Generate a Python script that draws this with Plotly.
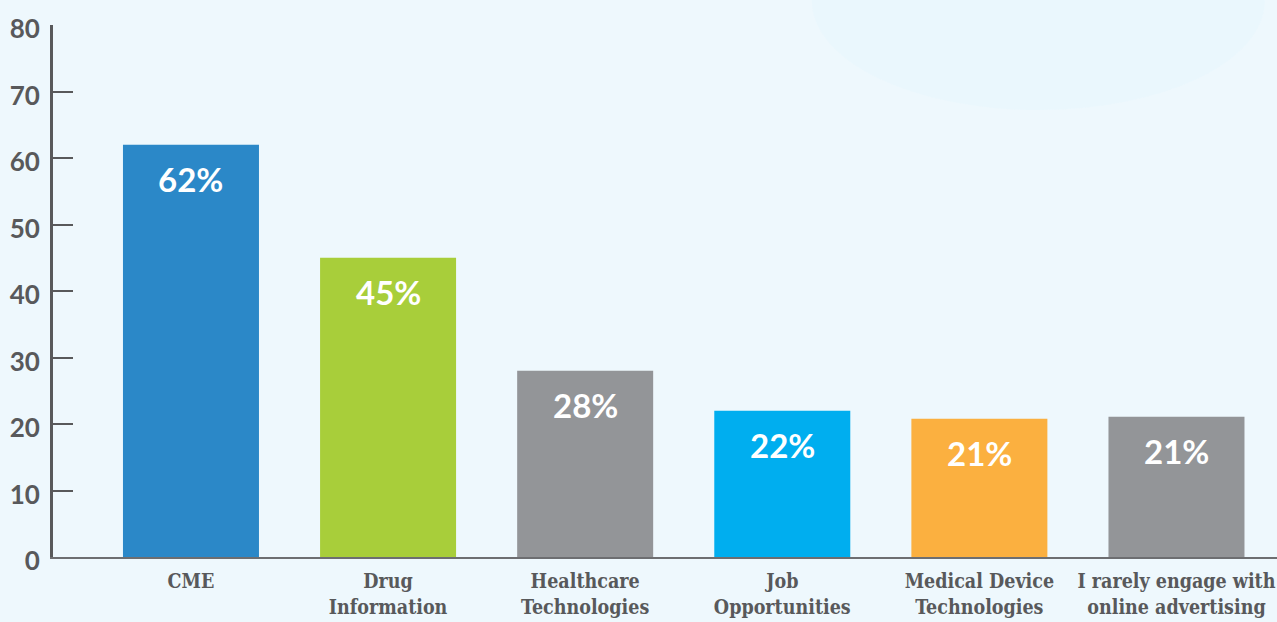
import plotly.graph_objects as go

categories = ["CME", "Drug<br>Information", "Healthcare<br>Technologies", "Job<br>Opportunities",
              "Medical Device<br>Technologies", "I rarely engage with<br>online advertising"]
values = [62, 45, 28, 22, 20.8, 21.1]
labels = ["62%", "45%", "28%", "22%", "21%", "21%"]
colors = ["#2B88C8", "#A8CE3A", "#939598", "#00AEEF", "#FBB040", "#939598"]
y_ticks = [0, 10, 20, 30, 40, 50, 60, 70, 80]

fig = go.Figure()
fig.add_trace(go.Bar(x=list(range(len(categories))), y=values, marker=dict(color=colors, line=dict(width=0)),
                     width=0.69, hoverinfo="skip"))

for i, (v, t) in enumerate(zip(values, labels)):
    fig.add_annotation(x=i, y=v, text=t, showarrow=False, yanchor="middle", yshift=-34,
                       font=dict(family="Lato", size=33, color="white", weight=700))

fig.add_shape(type="circle", xref="paper", yref="paper", x0=0.62, x1=0.99, y0=0.84, y1=1.25,
              fillcolor="#E8F6FD", line=dict(width=0), layer="below", opacity=0.6)

fig.update_layout(
    width=1277, height=622,
    margin=dict(l=53, r=0, t=25, b=65),
    paper_bgcolor="#EEF8FD", plot_bgcolor="rgba(0,0,0,0)",
    showlegend=False,
    bargap=0.31,
)
fig.update_xaxes(
    tickmode="array", tickvals=list(range(len(categories))), ticktext=categories,
    range=[-0.70, 5.51], tickangle=0, showgrid=False, zeroline=False,
    showline=True, linecolor="#6D6E71", linewidth=2, ticks="",
    tickfont=dict(family="DejaVu Serif Condensed, DejaVu Serif", size=19.5, color="#58595B", weight=700),
    ticklabelstandoff=6,
)
fig.update_yaxes(
    range=[0, 80], tickmode="array", tickvals=y_ticks, showgrid=False, zeroline=False,
    showline=True, linecolor="#58595B", linewidth=3, ticks="inside", ticklen=20,
    tickwidth=2, tickcolor="#58595B",
    tickfont=dict(family="Lato", size=26, color="#58595B", weight=700),
    ticklabelstandoff=5, ticklabelshift=4,
)
fig.write_html("out.html")
